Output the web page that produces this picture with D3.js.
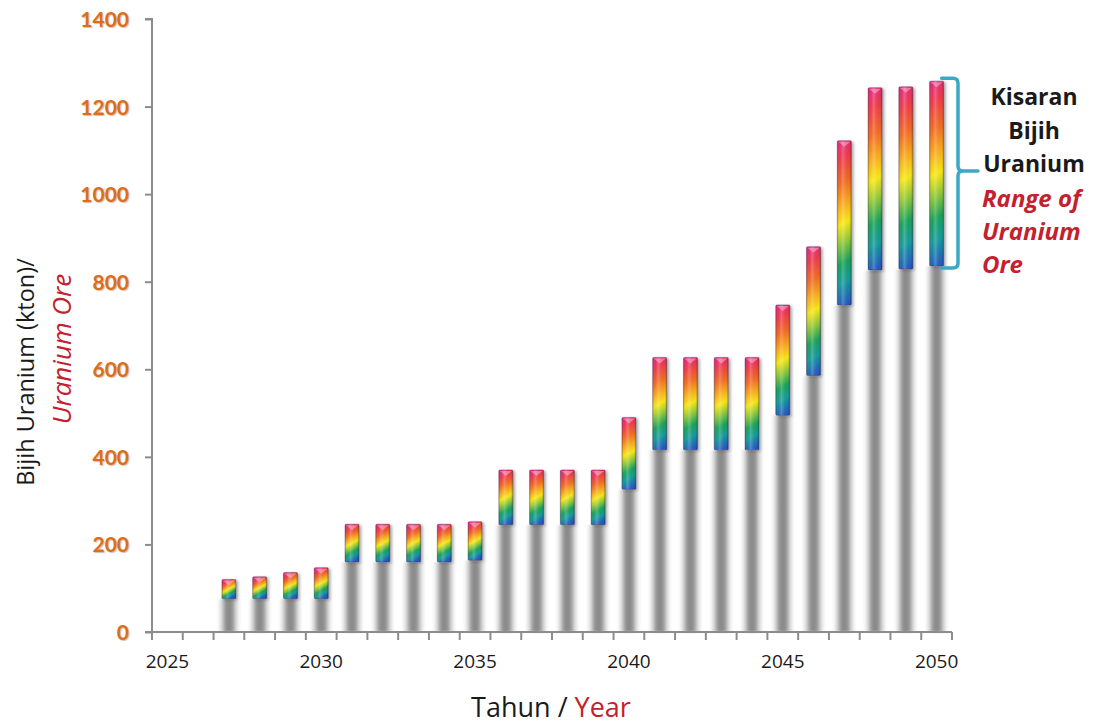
<!DOCTYPE html>
<html>
<head>
<meta charset="utf-8">
<script src="https://cdn.jsdelivr.net/npm/d3@7"></script>
<style>
  html, body { margin: 0; padding: 0; background: #ffffff; }
  svg { display: block; }
</style>
</head>
<body>
<svg id="chart" width="1094" height="726"></svg>
<script>
// ---- data ----
const years = ["2025","2026","2027","2028","2029","2030","2031","2032","2033","2034","2035","2036","2037",
               "2038","2039","2040","2041","2042","2043","2044","2045","2046","2047","2048","2049","2050"];
const lowValues  = [null, null, 76, 76, 76, 76, 160, 160, 160, 160, 164, 245, 245,
                    245, 245, 326, 416, 416, 416, 416, 495, 586, 747, 827, 829, 836];
const highValues = [null, null, 120, 126, 136, 147, 246, 246, 246, 246, 252, 370, 370,
                    370, 370, 490, 627, 627, 627, 627, 747, 880, 1122, 1243, 1245, 1258];
const yTicks = [0, 200, 400, 600, 800, 1000, 1200, 1400];
const xLabelYears = ["2025","2030","2035","2040","2045","2050"];
const yTitle1 = "Bijih Uranium (kton)/";
const yTitle2 = "Uranium Ore";
const xTitle1 = "Tahun / ";
const xTitle2 = "Year";
const noteBlack = ["Kisaran", "Bijih", "Uranium"];
const noteRed = ["Range of", "Uranium", "Ore"];

const data = years.map((y, i) => ({ year: y, low: lowValues[i], high: highValues[i] }))
                  .filter(d => d.low !== null);

// ---- layout ----
const svg = d3.select("#chart");
const x = d3.scaleBand().domain(years).range([152, 952]).padding(0);
const y = d3.scaleLinear().domain([0, 1400]).range([632, 19]);
const axisColor = "#8c8c8c";
const fontMain = "'Open Sans', 'DejaVu Sans', sans-serif";

const defs = svg.append("defs");

// gray base gradient (horizontal, soft edges)
const gg = defs.append("linearGradient").attr("id", "grayBase")
  .attr("x1", 0).attr("y1", 0).attr("x2", 1).attr("y2", 0);
[[0, "#ffffff", 0], [0.18, "#d0d0d0", 0.6], [0.36, "#979797", 1], [0.5, "#878787", 1],
 [0.64, "#979797", 1], [0.82, "#d0d0d0", 0.6], [1, "#ffffff", 0]]
  .forEach(s => gg.append("stop").attr("offset", s[0]).attr("stop-color", s[1]).attr("stop-opacity", s[2]));

// gloss overlay (horizontal)
const gl = defs.append("linearGradient").attr("id", "gloss")
  .attr("x1", 0).attr("y1", 0).attr("x2", 1).attr("y2", 0);
[[0, "#000000", 0.18], [0.2, "#ffffff", 0.0], [0.4, "#ffffff", 0.22], [0.6, "#ffffff", 0.05],
 [0.85, "#000000", 0.0], [1, "#000000", 0.22]]
  .forEach(s => gl.append("stop").attr("offset", s[0]).attr("stop-color", s[1]).attr("stop-opacity", s[2]));

// drop shadow
const f = defs.append("filter").attr("id", "shadow")
  .attr("x", "-50%").attr("y", "-10%").attr("width", "200%").attr("height", "130%");
f.append("feDropShadow").attr("dx", 2).attr("dy", 1).attr("stdDeviation", 1.6)
  .attr("flood-color", "#000").attr("flood-opacity", 0.35);

const blur = defs.append("filter").attr("id", "soft")
  .attr("x", "-30%").attr("y", "-5%").attr("width", "160%").attr("height", "110%");
blur.append("feGaussianBlur").attr("stdDeviation", 0.8);

const rainbowStops = [
  [0, "#e62a78"], [0.1, "#ec3a4a"], [0.25, "#f06a22"], [0.38, "#f7a91c"],
  [0.5, "#f6e616"], [0.62, "#8cc63a"], [0.74, "#1aa15a"], [0.86, "#139a9a"], [1, "#2558c0"]
];

const barW = 14;
const grayW = 26;

// gray bases
svg.append("g").selectAll("rect").data(data).join("rect")
  .attr("x", d => x(d.year) + x.bandwidth() / 2 - grayW / 2)
  .attr("width", grayW)
  .attr("y", d => y(d.low))
  .attr("height", d => y(0) - y(d.low))
  .attr("fill", "url(#grayBase)")
  .attr("filter", "url(#soft)");

// per-bar rainbow gradients (skewed)
data.forEach((d, i) => {
  const cx = x(d.year) + x.bandwidth() / 2;
  const top = y(d.high), bot = y(d.low);
  const g = defs.append("linearGradient").attr("id", "rb" + i)
    .attr("gradientUnits", "userSpaceOnUse")
    .attr("x1", cx).attr("y1", top).attr("x2", cx).attr("y2", bot)
    .attr("gradientTransform", `translate(${cx},0) skewY(-28) translate(${-cx},0)`);
  rainbowStops.forEach(s => g.append("stop").attr("offset", s[0]).attr("stop-color", s[1]));
});

const bars = svg.append("g").selectAll("g").data(data).join("g");
bars.append("rect")
  .attr("x", d => x(d.year) + x.bandwidth() / 2 - barW / 2)
  .attr("width", barW)
  .attr("y", d => y(d.high))
  .attr("height", d => y(d.low) - y(d.high))
  .attr("rx", 1.2)
  .attr("fill", (d, i) => `url(#rb${i})`)
  .attr("stroke", "rgba(60,40,80,0.45)")
  .attr("stroke-width", 0.8)
  .attr("filter", "url(#shadow)");
bars.append("rect")
  .attr("x", d => x(d.year) + x.bandwidth() / 2 - barW / 2)
  .attr("width", barW)
  .attr("y", d => y(d.high))
  .attr("height", d => y(d.low) - y(d.high))
  .attr("fill", "url(#gloss)");
// top bevel highlight
bars.append("path")
  .attr("d", d => {
    const cx = x(d.year) + x.bandwidth() / 2, t = y(d.high);
    return `M${cx - barW / 2 + 1},${t + 1} L${cx + barW / 2 - 1},${t + 1} L${cx},${t + 6} Z`;
  })
  .attr("fill", "#ffffff").attr("opacity", 0.35);

// ---- axes ----
const yAxis = svg.append("g").attr("transform", "translate(152,0)")
  .call(d3.axisLeft(y).tickValues(yTicks).tickSize(7).tickPadding(16).tickFormat(d3.format("d")));
yAxis.select(".domain").attr("stroke", axisColor).attr("stroke-width", 2)
  .attr("d", `M-7,${y(1400)}H0V${y(0)}`);
yAxis.selectAll(".tick line").attr("stroke", axisColor).attr("stroke-width", 2);
yAxis.selectAll(".tick text")
  .attr("fill", "#dc6d1c").attr("font-family", "Lato, 'Open Sans', sans-serif")
  .attr("font-weight", "bold").attr("font-size", 21)
  .attr("dy", "0.36em")
  .style("text-shadow", "1px 1px 1px rgba(120,60,10,0.35)");

const xAxis = svg.append("g").attr("transform", `translate(0,${y(0)})`)
  .call(d3.axisBottom(x).tickValues(xLabelYears).tickSize(0).tickPadding(23));
xAxis.select(".domain").attr("stroke", axisColor).attr("stroke-width", 2)
  .attr("d", `M145,0H952`);
xAxis.selectAll(".tick text")
  .attr("fill", "#1a1a1a").attr("font-family", fontMain).attr("font-size", 19);
// band boundary ticks
const boundaries = years.map(yr => x(yr)).concat([x(years[years.length - 1]) + x.bandwidth()]);
svg.append("g").selectAll("line").data(boundaries).join("line")
  .attr("x1", d => d).attr("x2", d => d)
  .attr("y1", y(0)).attr("y2", y(0) + 8)
  .attr("stroke", axisColor).attr("stroke-width", 2);

// ---- titles ----
svg.append("text")
  .attr("transform", `translate(34,372) rotate(-90)`)
  .attr("text-anchor", "middle")
  .attr("font-family", fontMain).attr("font-size", 23.5).attr("fill", "#1a1a1a")
  .text(yTitle1);
svg.append("text")
  .attr("transform", `translate(71,349) rotate(-90)`)
  .attr("text-anchor", "middle")
  .attr("font-family", fontMain).attr("font-size", 26).attr("font-style", "italic").attr("fill", "#c4202e")
  .text(yTitle2);

const xt = svg.append("text")
  .attr("x", 551).attr("y", 717).attr("text-anchor", "middle")
  .attr("font-family", fontMain).attr("font-size", 27);
xt.append("tspan").attr("fill", "#1a1a1a").text(xTitle1);
xt.append("tspan").attr("fill", "#c4202e").text(xTitle2);

// ---- annotation bracket ----
const last = data[data.length - 1];
const bTop = y(last.high) - 3, bBot = y(last.low) + 2;
const bx0 = x(last.year) + x.bandwidth() / 2 + barW / 2 - 2, bx1 = 958, bMid = 171;
svg.append("path")
  .attr("d", `M${bx0},${bTop} H${bx1 - 5} Q${bx1},${bTop} ${bx1},${bTop + 5} V${bMid - 5} Q${bx1},${bMid} ${bx1 + 5},${bMid} H${978}
              M${bx1 + 5},${bMid} Q${bx1},${bMid} ${bx1},${bMid + 5} V${bBot - 5} Q${bx1},${bBot} ${bx1 - 5},${bBot} H${bx0}`)
  .attr("fill", "none").attr("stroke", "#3aa9c6").attr("stroke-width", 3.5)
  .attr("stroke-linecap", "round");

svg.append("g").selectAll("text").data(noteBlack).join("text")
  .attr("x", 1034).attr("y", (d, i) => 105 + i * 33.5)
  .attr("text-anchor", "middle")
  .attr("font-family", fontMain).attr("font-weight", "bold").attr("font-size", 23)
  .attr("fill", "#1a1a1a").text(d => d);
svg.append("g").selectAll("text").data(noteRed).join("text")
  .attr("x", 982).attr("y", (d, i) => 207 + i * 33)
  .attr("text-anchor", "start")
  .attr("font-family", fontMain).attr("font-weight", "bold").attr("font-style", "italic").attr("font-size", 24)
  .attr("fill", "#c4202e").text(d => d);
</script>
</body>
</html>
